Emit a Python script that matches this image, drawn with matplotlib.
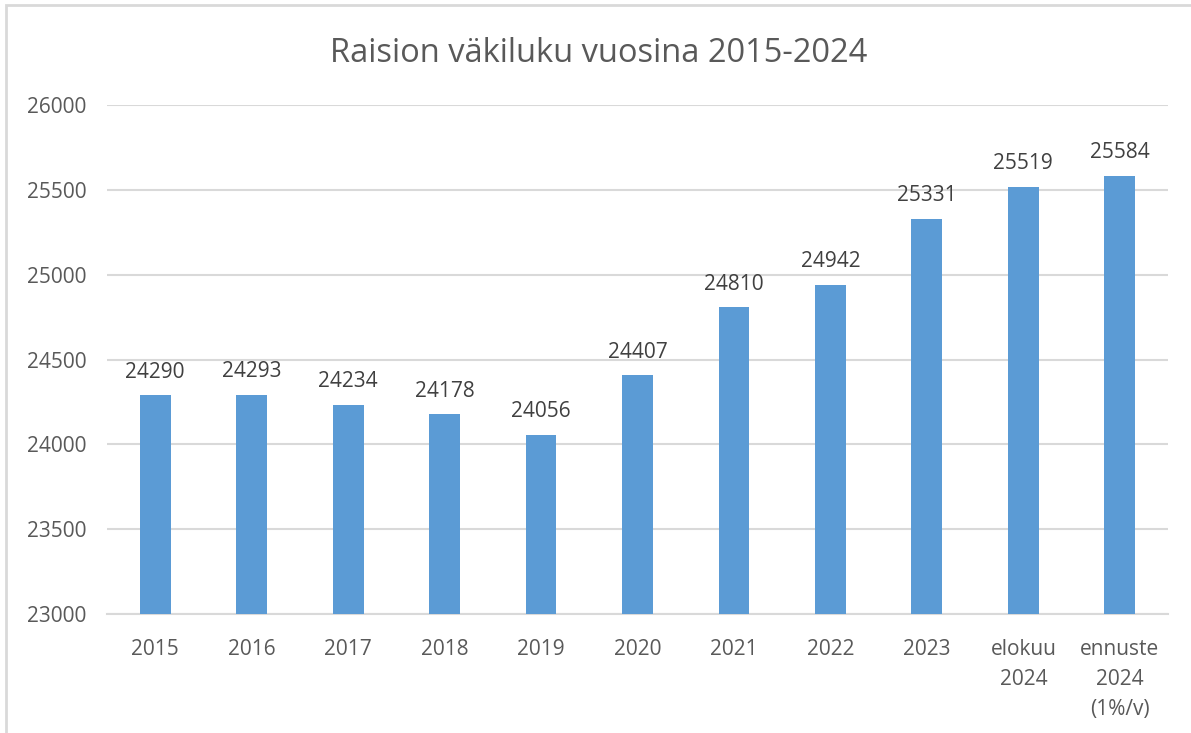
import matplotlib
matplotlib.use("Agg")
import matplotlib.pyplot as plt
from matplotlib.patches import Rectangle

categories = ["2015", "2016", "2017", "2018", "2019", "2020", "2021", "2022", "2023",
              "elokuu\n2024", "ennuste\n2024\n(1%/v)"]
values = [24290, 24293, 24234, 24178, 24056, 24407, 24810, 24942, 25331, 25519, 25584]
yticks = [23000, 23500, 24000, 24500, 25000, 25500, 26000]
title = "Raision väkiluku vuosina 2015-2024"

plt.rcParams['font.family'] = ['Open Sans', 'DejaVu Sans']
W, H = 1191, 733
fig = plt.figure(figsize=(W / 100, H / 100), dpi=100)
fig.patch.set_facecolor("white")

# chart border
fig.add_artist(Rectangle((6 / W, -0.05), 1.2, 1 - 5 / H + 0.05, transform=fig.transFigure,
                         fill=False, edgecolor="#D9D9D9", linewidth=2))

left, right, top, bottom = 107, 1168, 105, 614
ax = fig.add_axes([left / W, 1 - bottom / H, (right - left) / W, (bottom - top) / H])
x = list(range(len(categories)))
ax.bar(x, [v - 23000 for v in values], bottom=23000, width=0.32, color="#5B9BD5", zorder=3)
ax.set_xlim(-0.5, len(categories) - 0.5)
ax.set_ylim(23000, 26000)
ax.set_yticks(yticks)
ax.set_yticklabels([str(t) for t in yticks])
ax.set_xticks(x)
ax.set_xticklabels(categories, linespacing=1.55, va="top")
ax.yaxis.grid(True, color="#D9D9D9", linewidth=1.5, zorder=0)
for s in ["top", "right", "left"]:
    ax.spines[s].set_visible(False)
ax.spines["bottom"].set_color("#D9D9D9")
ax.spines["bottom"].set_linewidth(1.5)
ax.tick_params(axis="both", length=0, labelsize=15, labelcolor="#595959")
ax.tick_params(axis="y", pad=15)
ax.tick_params(axis="x", pad=18)
for xi, v in zip(x, values):
    ax.annotate(str(v), (xi, v), xytext=(0, 12.5), textcoords="offset points",
                ha="center", va="baseline", fontsize=15, color="#404040")

fig.text(0.5 + 6 / W / 2, 1 - 62 / H, title, ha="center", va="baseline", fontsize=23.5, color="#595959")
fig.savefig("out.png", dpi=100, facecolor="white")
